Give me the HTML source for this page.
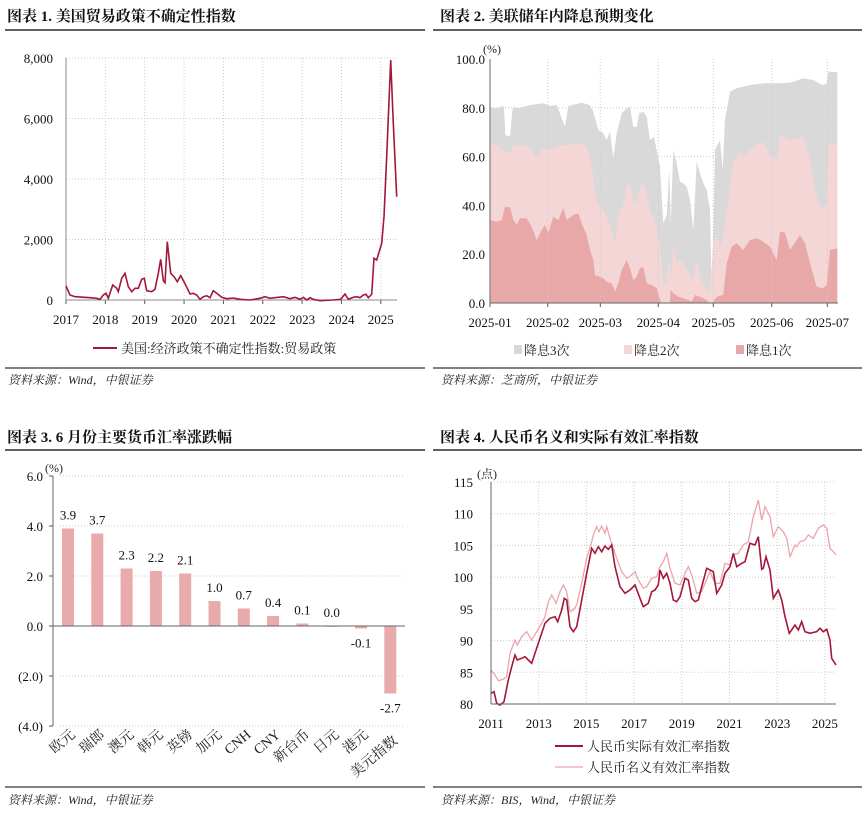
<!DOCTYPE html>
<html><head><meta charset="utf-8">
<style>
html,body{margin:0;padding:0;background:#fff;}
svg{display:block;font-family:"Liberation Serif","Noto Serif CJK SC",serif;}
.t{font-family:"Liberation Serif","Noto Serif CJK SC",serif;font-weight:bold;font-size:15px;fill:#111;}
.s{font-family:"Liberation Serif","Noto Serif CJK SC",serif;font-style:italic;font-size:12px;fill:#222;}
.ax{font-size:13px;fill:#111;}
.g{stroke:#ccc;stroke-dasharray:1 2;stroke-width:1;}
</style></head><body>
<svg id="c" width="868" height="813" viewBox="0 0 868 813" xmlns="http://www.w3.org/2000/svg">
<text class="t" x="7" y="21">图表 1. 美国贸易政策不确定性指数</text>
<text class="t" x="440" y="21">图表 2. 美联储年内降息预期变化</text>
<line x1="5" y1="30" x2="425" y2="30" stroke="#000" stroke-width="1.3"/>
<line x1="433" y1="30" x2="862" y2="30" stroke="#000" stroke-width="1.3"/>
<line x1="5" y1="368" x2="425" y2="368" stroke="#000" stroke-width="1"/>
<line x1="433" y1="368" x2="862" y2="368" stroke="#000" stroke-width="1"/>
<text class="s" x="8" y="384">资料来源：Wind，中银证券</text>
<text class="s" x="441" y="384">资料来源：芝商所，中银证券</text>
<text class="t" x="7" y="442">图表 3. 6 月份主要货币汇率涨跌幅</text>
<text class="t" x="440" y="442">图表 4. 人民币名义和实际有效汇率指数</text>
<line x1="5" y1="450" x2="425" y2="450" stroke="#000" stroke-width="1.3"/>
<line x1="433" y1="450" x2="862" y2="450" stroke="#000" stroke-width="1.3"/>
<line x1="5" y1="787" x2="425" y2="787" stroke="#000" stroke-width="1"/>
<line x1="433" y1="787" x2="862" y2="787" stroke="#000" stroke-width="1"/>
<text class="s" x="8" y="804">资料来源：Wind，中银证券</text>
<text class="s" x="441" y="804">资料来源：BIS，Wind，中银证券</text>
<g id="c1"></g>
<g id="c2"></g>
<g id="c3"></g>
<g id="c4"></g>
</svg>
<script>
var NS="http://www.w3.org/2000/svg";
function el(p,tag,a,txt){var e=document.createElementNS(NS,tag);for(var k in a)e.setAttribute(k,a[k]);if(txt!=null)e.textContent=txt;p.appendChild(e);return e;}
function pts(arr,ox,oy){var s=[];for(var i=0;i<arr.length;i+=2)s.push((ox+arr[i]/3).toFixed(1)+","+(oy+arr[i+1]/3).toFixed(1));return s;}

var g=document.getElementById("c1");
var y0=300,y8=58;
for(var i=0;i<=4;i++){var y=y0-(y0-y8)*i/4;if(i>0)el(g,"line",{x1:66,y1:y,x2:397,y2:y,"class":"g"});
 el(g,"text",{x:53,y:y+5,"text-anchor":"end","class":"ax","font-size":"14"},(i*2000).toLocaleString("en-US"));}
for(var yr=0;yr<=8;yr++){var x=66+yr*39.35;if(yr>0)el(g,"line",{x1:x,y1:58,x2:x,y2:300,"class":"g"});
 el(g,"line",{x1:x,y1:300,x2:x,y2:304,stroke:"#555"});
 el(g,"text",{x:x,y:324,"text-anchor":"middle","class":"ax","font-size":"14"},2017+yr);}
el(g,"line",{x1:66,y1:58,x2:66,y2:300,stroke:"#888"});
el(g,"line",{x1:66,y1:300,x2:397,y2:300,stroke:"#888"});
var d1=[198,768,210,795,225,800,270,803,290,805,300,808,310,795,318,790,325,805,338,765,350,775,355,785,365,745,375,730,385,770,395,785,405,775,415,775,425,748,433,745,440,782,455,785,465,778,475,730,482,688,490,752,495,758,502,635,512,730,522,740,532,755,542,737,552,755,570,792,580,790,590,795,600,808,610,800,620,797,630,803,640,782,650,790,665,802,680,806,700,804,720,808,750,810,780,805,795,800,810,805,850,800,870,806,885,802,900,808,910,802,920,810,930,803,940,808,960,812,1000,810,1022,808,1035,792,1045,808,1060,802,1070,800,1080,803,1090,795,1098,793,1105,803,1115,793,1122,685,1130,690,1145,640,1152,560,1160,380,1172,90,1180,280,1190,500];
el(g,"polyline",{points:pts(d1,0,30).join(" "),fill:"none",stroke:"#a3183a","stroke-width":1.6});
el(g,"line",{x1:93,y1:348,x2:117,y2:348,stroke:"#a3183a","stroke-width":2});
el(g,"text",{x:121,y:353,"font-size":"13",fill:"#222"},"美国:经济政策不确定性指数:贸易政策");

g=document.getElementById("c2");
var top2=[182,232,200,235,218,228,222,230,226,315,240,320,248,232,265,235,300,225,340,220,360,228,380,225,405,290,415,228,455,218,480,225,490,245,505,300,520,310,530,330,540,305,550,385,560,310,575,250,590,235,600,230,610,290,620,290,628,250,640,245,650,260,660,330,672,320,690,410,700,580,710,555,718,420,722,580,730,360,740,400,750,455,760,460,770,470,780,510,790,600,800,395,810,430,820,460,830,480,840,540,845,780,850,600,855,360,865,340,870,330,878,420,885,270,900,185,920,175,960,165,1000,160,1040,160,1080,158,1120,145,1150,150,1175,165,1190,162,1195,125,1222,127];
var mid2=[182,340,200,345,225,365,240,370,250,345,280,345,300,355,320,385,340,355,360,360,380,350,400,345,420,345,455,338,470,350,480,380,490,440,500,520,510,525,520,540,530,560,545,600,555,640,565,560,580,520,590,470,600,450,610,520,620,510,630,470,640,460,650,490,660,540,670,560,680,600,690,640,700,760,710,760,718,680,722,760,730,640,740,700,750,690,760,700,770,720,790,750,800,690,810,740,820,760,840,790,850,640,860,610,870,650,880,620,890,540,910,400,925,365,940,380,960,360,980,345,1000,335,1020,380,1040,385,1050,315,1060,320,1080,330,1100,325,1120,320,1140,390,1160,500,1175,540,1190,520,1195,345,1222,340];
var bot2=[182,570,200,575,215,570,225,530,240,532,250,570,260,585,270,565,290,565,305,590,320,630,335,600,345,585,355,610,370,560,385,570,400,535,410,570,430,555,445,550,455,580,470,615,480,660,490,690,495,735,510,740,520,745,530,755,545,760,555,785,565,760,575,720,590,690,600,715,610,750,620,740,630,715,640,710,650,760,665,765,680,775,690,810,695,820,710,820,720,818,722,780,730,790,745,800,760,805,775,810,785,815,795,795,810,800,830,810,840,820,850,815,860,800,880,795,890,700,905,650,920,640,940,660,960,630,980,625,1000,635,1020,650,1040,690,1050,605,1065,608,1080,660,1100,630,1110,615,1125,640,1140,700,1160,770,1180,775,1190,765,1200,660,1222,655];
var base=" 837.3,303.3 490.7,303.3";
for(var i=1;i<=4;i++){var y=303-244*i/5;el(g,"line",{x1:490,y1:y,x2:838,y2:y,"class":"g"});}
el(g,"polygon",{points:pts(top2,430,30).join(" ")+base,fill:"#d9d9d9"});
el(g,"polygon",{points:pts(mid2,430,30).join(" ")+base,fill:"#f4d6d6"});
el(g,"polygon",{points:pts(bot2,430,30).join(" ")+base,fill:"#e8a8a8"});
for(var i=0;i<=5;i++){var y=303-244*i/5;
 el(g,"text",{x:485,y:y+5,"text-anchor":"end","class":"ax","font-size":"13"},(i*20).toFixed(1));}
var mx=[490,547.7,600.3,658.3,713.3,771.7,827.3];
for(var i=0;i<mx.length;i++){el(g,"line",{x1:mx[i],y1:59,x2:mx[i],y2:303,"class":"g"});
 el(g,"line",{x1:mx[i],y1:303,x2:mx[i],y2:307,stroke:"#555"});
 el(g,"text",{x:mx[i],y:327,"text-anchor":"middle","class":"ax","font-size":"13"},"2025-0"+(i+1));}
el(g,"line",{x1:490,y1:59,x2:490,y2:303,stroke:"#666"});
el(g,"line",{x1:490,y1:303,x2:838,y2:303,stroke:"#666"});
el(g,"text",{x:483,y:53,"font-size":"12",fill:"#222"},"(%)");
var lg=[[514,"#d9d9d9","降息3次"],[624,"#f4d6d6","降息2次"],[736,"#e8a8a8","降息1次"]];
lg.forEach(function(l){el(g,"rect",{x:l[0],y:345,width:8,height:9,fill:l[1]});el(g,"text",{x:l[0]+10,y:355,"font-size":"13",fill:"#222"},l[2]);});

g=document.getElementById("c3");
var z0=626,u=25;
var yl=[["6.0",6],["4.0",4],["2.0",2],["0.0",0],["(2.0)",-2],["(4.0)",-4]];
yl.forEach(function(a){var y=z0-a[1]*u;if(a[1]!=0)el(g,"line",{x1:60,y1:y,x2:405,y2:y,"class":"g"});
 el(g,"line",{x1:49,y1:y,x2:53,y2:y,stroke:"#555"});
 el(g,"text",{x:43,y:y+5,"text-anchor":"end","class":"ax","font-size":"14",fill:a[1]<0?"#d01010":"#111"},a[0]);});
el(g,"text",{x:45,y:472,"font-size":"12",fill:"#222"},"(%)");
var bars=[["欧元",3.9],["瑞郎",3.7],["澳元",2.3],["韩元",2.2],["英镑",2.1],["加元",1.0],["CNH",0.7],["CNY",0.4],["新台币",0.1],["日元",0.0],["港元",-0.1],["美元指数",-2.7]];
bars.forEach(function(b,i){var cx=68+i*29.3,v=b[1];var h=Math.abs(v)*u;var y=v>=0?z0-h:z0;
 el(g,"rect",{x:cx-6,y:y,width:12,height:Math.max(h,0.8),fill:"#e8aaaa"});
 var ty=v>=0?z0-h-9:z0+h+19;
 el(g,"text",{x:cx,y:ty,"text-anchor":"middle","class":"ax","font-size":"14"},v.toFixed(1));
 var ax=cx+8,ay=(i==11)?742:736;
 el(g,"text",{x:ax,y:ay,"text-anchor":"end","font-size":"14",fill:"#222",transform:"rotate(-40 "+ax+" "+ay+")"},b[0]);
});
el(g,"line",{x1:53,y1:476,x2:53,y2:726,stroke:"#666"});
el(g,"line",{x1:53,y1:z0,x2:405,y2:z0,stroke:"#666"});

g=document.getElementById("c4");
var y80=704,ppu=(704-482)/35;
for(var v=80;v<=115;v+=5){var y=y80-(v-80)*ppu;if(v>80)el(g,"line",{x1:491,y1:y,x2:836,y2:y,"class":"g"});
 el(g,"text",{x:473,y:y+5,"text-anchor":"end","class":"ax","font-size":"14"},v);}
for(var k=0;k<=7;k++){var x=491+k*47.7;if(k>0)el(g,"line",{x1:x,y1:482,x2:x,y2:704,"class":"g"});
 el(g,"text",{x:x,y:728,"text-anchor":"middle","class":"ax","font-size":"14"},2011+2*k);}
el(g,"text",{x:477,y:478,"font-size":"12",fill:"#222"},"(点)");
var nom=[183,750,195,765,205,782,220,778,230,770,240,700,255,660,262,675,275,650,290,635,305,660,320,635,335,610,345,590,355,545,365,525,378,550,390,515,400,495,410,515,420,575,430,570,440,555,455,490,470,415,485,365,490,345,500,320,507,335,515,318,525,340,530,320,540,355,550,385,560,415,575,455,590,475,605,465,615,455,625,480,640,505,650,500,665,475,680,470,690,440,700,425,710,400,720,445,735,490,750,495,765,460,775,440,785,465,800,520,815,515,825,490,840,455,855,490,870,490,885,430,900,435,910,405,925,400,940,375,955,365,970,290,985,240,995,300,1005,260,1020,290,1030,350,1045,320,1060,335,1070,355,1080,410,1095,375,1100,380,1110,365,1125,360,1135,345,1150,355,1165,325,1180,315,1190,325,1200,385,1210,395,1218,405];
var real=[183,820,192,815,200,850,210,855,222,845,235,780,245,740,255,705,262,720,275,715,285,710,295,720,305,730,315,700,330,655,345,610,360,595,375,590,383,605,395,570,403,535,410,540,420,620,430,635,440,620,455,540,470,460,485,385,495,400,505,380,515,395,525,378,535,388,545,375,555,440,570,500,585,520,600,510,615,495,630,535,640,560,655,550,665,515,675,510,685,495,690,450,700,475,710,460,720,490,730,540,740,545,750,530,765,475,775,480,785,535,795,545,805,540,815,500,830,445,850,455,860,520,875,495,885,460,900,440,910,400,920,440,935,430,945,425,960,370,975,375,985,350,995,448,1000,445,1008,410,1020,450,1030,535,1045,510,1055,540,1065,590,1078,640,1095,615,1105,630,1115,605,1125,635,1140,640,1160,635,1170,625,1180,635,1190,628,1200,660,1205,715,1218,735];
el(g,"polyline",{points:pts(nom,430,420).join(" "),fill:"none",stroke:"#eaa4ac","stroke-width":1.3});
el(g,"polyline",{points:pts(real,430,420).join(" "),fill:"none",stroke:"#a3183a","stroke-width":1.6});
el(g,"line",{x1:491,y1:482,x2:491,y2:704,stroke:"#666"});
el(g,"line",{x1:491,y1:704,x2:836,y2:704,stroke:"#666"});
el(g,"line",{x1:555,y1:746,x2:583,y2:746,stroke:"#a3183a","stroke-width":2});
el(g,"text",{x:587,y:751,"font-size":"13",fill:"#222"},"人民币实际有效汇率指数");
el(g,"line",{x1:555,y1:767,x2:583,y2:767,stroke:"#eaa4ac","stroke-width":1.3});
el(g,"text",{x:587,y:772,"font-size":"13",fill:"#222"},"人民币名义有效汇率指数");
</script>
</body></html>
